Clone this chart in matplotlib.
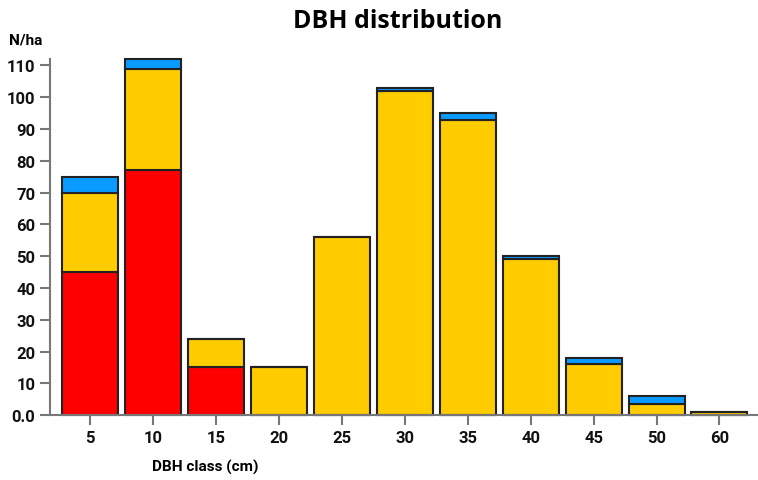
import numpy as np
import matplotlib
matplotlib.use('Agg')
import matplotlib.pyplot as plt

# DBH classes and stacked values (N/ha)
classes = ['5', '10', '15', '20', '25', '30', '35', '40', '45', '50', '60']
red = [45, 77, 15, 0, 0, 0, 0, 0, 0, 0, 0]
yellow = [25, 32, 9, 15, 56, 102, 93, 49, 16, 3.5, 1]
blue = [5, 3, 0, 0, 0, 1, 2, 1, 2, 2.5, 0]

yticks = [0, 10, 20, 30, 40, 50, 60, 70, 80, 90, 100, 110]
ytick_labels = ['0.0', '10', '20', '30', '40', '50', '60', '70', '80', '90', '100', '110']

plt.rcParams['font.family'] = ['Liberation Sans Narrow', 'Roboto', 'DejaVu Sans']

fig = plt.figure(figsize=(7.58, 4.81), dpi=100)
ax = fig.add_axes([0.066, 0.135, 0.933, 0.74])

x = np.arange(len(classes))
red = np.array(red, dtype=float)
yellow = np.array(yellow, dtype=float)
blue = np.array(blue, dtype=float)

kw = dict(width=0.89, edgecolor='#222222', linewidth=1.5, clip_on=False)
ax.bar(x, red, color='#ff0000', **kw)
ax.bar(x, yellow, bottom=red, color='#ffcc00', **kw)
ax.bar(x, blue, bottom=red + yellow, color='#0a9bff', **kw)

ax.set_xlim(-0.64, 10.6)
ax.set_ylim(0, 112)
ax.set_xticks(x)
ax.set_xticklabels(classes, fontsize=12, fontweight='bold')
ax.set_yticks(yticks)
ax.set_yticklabels(ytick_labels, fontsize=12, fontweight='bold')

for s in ['top', 'right']:
    ax.spines[s].set_visible(False)
for s in ['left', 'bottom']:
    ax.spines[s].set_color('#777777')
    ax.spines[s].set_linewidth(1.5)
ax.tick_params(axis='both', color='#777777', width=1.5, length=7, labelcolor='#111111')

fig.text(0.525, 0.955, 'DBH distribution', ha='center', va='center',
         fontsize=18, fontweight='bold', family=['Open Sans', 'DejaVu Sans'])
fig.text(0.012, 0.915, 'N/ha', ha='left', va='center', fontsize=11, fontweight='bold')
fig.text(0.2, 0.028, 'DBH class (cm)', ha='left', va='center', fontsize=11, fontweight='bold')

fig.savefig('out.png', dpi=100)
